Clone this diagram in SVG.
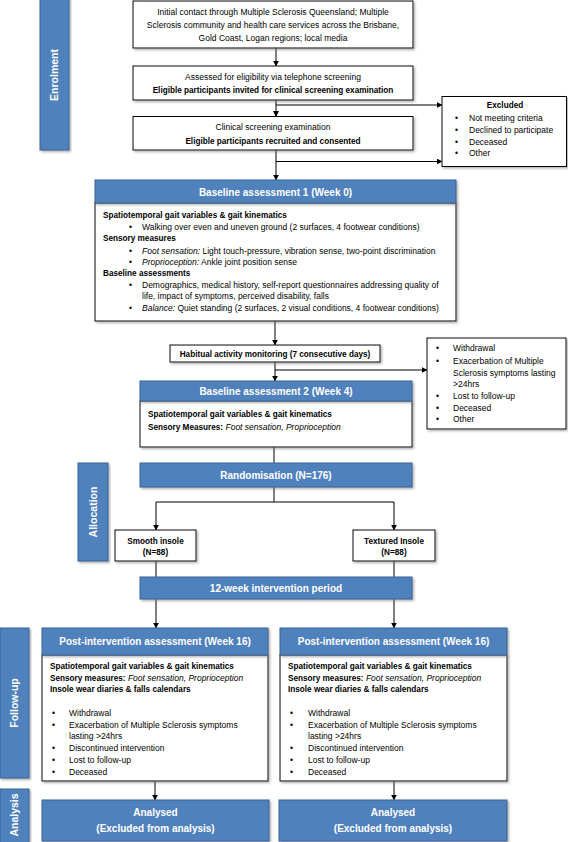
<svg xmlns="http://www.w3.org/2000/svg" width="568" height="842" viewBox="0 0 568 842">
<defs>
<filter id="ds" x="-5%" y="-5%" width="115%" height="130%"><feDropShadow dx="1.5" dy="1.5" stdDeviation="0.8" flood-color="#777" flood-opacity="0.6"/></filter>
<marker id="ah" viewBox="0 0 10 10" refX="9" refY="5" markerWidth="6" markerHeight="6" markerUnits="userSpaceOnUse" orient="auto"><path d="M0,0 L10,5 L0,10 z" fill="#000"/></marker>
</defs>
<style>
text { font-family: "Liberation Sans", Arial, sans-serif; font-size: 8.5px; fill: #000; }
.b { font-weight: bold; font-size: 8.2px; }
.i { font-style: italic; }
.c { text-anchor: middle; }
.h { font-weight: bold; font-size: 10px; fill: #fff; text-anchor: middle; }
.s { font-weight: bold; font-size: 10.5px; fill: #fff; text-anchor: middle; }
.wb { fill: #fff; stroke: #000; stroke-width: 1; filter: url(#ds); }
.bb { fill: #4F81BD; stroke: #3A6595; stroke-width: 1; filter: url(#ds); }
.ln { stroke: #000; stroke-width: 1; fill: none; }
.ar { stroke: #000; stroke-width: 1; fill: none; marker-end: url(#ah); }
</style>
<rect width="568" height="842" fill="#fff"/>

<g id="side-enrolment"><rect class="bb" x="40" y="-2" width="29" height="152"/><text class="s" transform="translate(54.5,75) rotate(-90)" dy="0.35em">Enrolment</text></g>
<g id="side-allocation"><rect class="bb" x="78" y="463" width="30" height="98"/><text class="s" transform="translate(93,512) rotate(-90)" dy="0.35em">Allocation</text></g>
<g id="side-followup"><rect class="bb" x="0" y="628" width="29" height="150"/><text class="s" transform="translate(14.5,703) rotate(-90)" dy="0.35em">Follow-up</text></g>
<g id="side-analysis"><rect class="bb" x="0" y="789" width="29" height="56"/><text class="s" transform="translate(14.5,815) rotate(-90)" dy="0.35em">Analysis</text></g>

<g id="connectors">
<line class="ar" x1="276" y1="48" x2="276" y2="66"/>
<line class="ar" x1="276" y1="100" x2="276" y2="116.5"/>
<line class="ar" x1="276" y1="105" x2="442" y2="105"/>
<line class="ar" x1="276" y1="150" x2="276" y2="180"/>
<line class="ar" x1="276" y1="161.5" x2="442" y2="161.5"/>
<line class="ar" x1="275" y1="321" x2="275" y2="345"/>
<line class="ar" x1="275" y1="362" x2="275" y2="381"/>
<line class="ar" x1="275" y1="370" x2="427" y2="370"/>
<line class="ln" x1="274" y1="447" x2="274" y2="463"/>
<line class="ln" x1="274" y1="487" x2="274" y2="502"/>
<line class="ln" x1="156" y1="502" x2="394" y2="502"/>
<line class="ar" x1="156" y1="502" x2="156" y2="530"/>
<line class="ar" x1="394" y1="502" x2="394" y2="530"/>
<line class="ln" x1="156" y1="561" x2="156" y2="577"/>
<line class="ln" x1="394" y1="561" x2="394" y2="577"/>
<line class="ar" x1="156" y1="599" x2="156" y2="628"/>
<line class="ar" x1="394" y1="599" x2="394" y2="628"/>
<line class="ar" x1="155" y1="781" x2="155" y2="800"/>
<line class="ar" x1="394" y1="781" x2="394" y2="800"/>
</g>

<g id="initial-contact">
<rect class="wb" x="133" y="1" width="280" height="47"/>
<text class="c" x="273" y="15">Initial contact through Multiple Sclerosis Queensland; Multiple</text>
<text class="c" x="273" y="28">Sclerosis community and health care services across the Brisbane,</text>
<text class="c" x="273" y="41">Gold Coast, Logan regions; local media</text>
</g>

<g id="telephone-screening">
<rect class="wb" x="133" y="66" width="280" height="34"/>
<text class="c" x="273" y="80">Assessed for eligibility via telephone screening</text>
<text class="c b" x="273" y="93">Eligible participants invited for clinical screening examination</text>
</g>

<g id="clinical-screening">
<rect class="wb" x="133" y="116.5" width="280" height="33.5"/>
<text class="c" x="273" y="130">Clinical screening examination</text>
<text class="c b" x="273" y="144">Eligible participants recruited and consented</text>
</g>

<g id="excluded-1">
<rect class="wb" x="442" y="96.5" width="124.5" height="70"/>
<text class="c b" x="505" y="108">Excluded</text>
<text x="455" y="121">•</text><text x="469" y="121">Not meeting criteria</text>
<text x="455" y="133">•</text><text x="469" y="133">Declined to participate</text>
<text x="455" y="144.7">•</text><text x="469" y="144.7">Deceased</text>
<text x="455" y="156.3">•</text><text x="469" y="156.3">Other</text>
</g>

<g id="baseline-1">
<rect class="wb" x="95" y="203" width="361" height="118"/>
<rect class="bb" x="95" y="180" width="361" height="23"/>
<text class="h" x="275.5" y="195.5">Baseline assessment 1 (Week 0)</text>
<text class="b" x="103" y="218">Spatiotemporal gait variables &amp; gait kinematics</text>
<text x="129" y="230.3">•</text><text x="142" y="230.3">Walking over even and uneven ground (2 surfaces, 4 footwear conditions)</text>
<text class="b" x="103" y="241.3">Sensory measures</text>
<text x="129" y="253.7">•</text><text x="142" y="253.7"><tspan class="i">Foot sensation:</tspan> Light touch-pressure, vibration sense, two-point discrimination</text>
<text x="129" y="264.7">•</text><text x="142" y="264.7"><tspan class="i">Proprioception:</tspan> Ankle joint position sense</text>
<text class="b" x="103" y="276.3">Baseline assessments</text>
<text x="129" y="288">•</text><text x="142" y="288">Demographics, medical history, self-report questionnaires addressing quality of</text>
<text x="142" y="299">life, impact of symptoms, perceived disability, falls</text>
<text x="129" y="311.3">•</text><text x="142" y="311.3"><tspan class="i">Balance:</tspan> Quiet standing (2 surfaces, 2 visual conditions, 4 footwear conditions)</text>
</g>

<g id="habitual-activity">
<rect class="wb" x="170" y="345" width="210" height="17"/>
<text class="c b" x="275" y="356.5">Habitual activity monitoring (7 consecutive days)</text>
</g>

<g id="excluded-2">
<rect class="wb" x="427" y="338" width="139" height="91"/>
<text x="436" y="351.3">•</text><text x="453" y="351.3">Withdrawal</text>
<text x="436" y="363.7">•</text><text x="453" y="363.7">Exacerbation of Multiple</text>
<text x="453" y="375.7">Sclerosis symptoms lasting</text>
<text x="453" y="387">&gt;24hrs</text>
<text x="436" y="399">•</text><text x="453" y="399">Lost to follow-up</text>
<text x="436" y="410.7">•</text><text x="453" y="410.7">Deceased</text>
<text x="436" y="422.3">•</text><text x="453" y="422.3">Other</text>
</g>

<g id="baseline-2">
<rect class="wb" x="140" y="401" width="272" height="46"/>
<rect class="bb" x="140" y="381" width="272" height="20"/>
<text class="h" x="276" y="394.5">Baseline assessment 2 (Week 4)</text>
<text class="b" x="148" y="417">Spatiotemporal gait variables &amp; gait kinematics</text>
<text x="148" y="430"><tspan class="b">Sensory Measures:</tspan> <tspan class="i">Foot sensation, Proprioception</tspan></text>
</g>

<g id="randomisation">
<rect class="bb" x="140" y="463" width="272" height="24"/>
<text class="h" x="276" y="478.5">Randomisation (N=176)</text>
</g>

<g id="smooth-insole">
<rect class="wb" x="115" y="530" width="81" height="31"/>
<text class="c b" x="155.5" y="544">Smooth insole</text>
<text class="c b" x="155.5" y="555">(N=88)</text>
</g>

<g id="textured-insole">
<rect class="wb" x="353" y="530" width="82" height="31"/>
<text class="c b" x="394" y="544">Textured Insole</text>
<text class="c b" x="394" y="555">(N=88)</text>
</g>

<g id="intervention-period">
<rect class="bb" x="140" y="577" width="272" height="22"/>
<text class="h" x="276" y="591.5">12-week intervention period</text>
</g>

<g id="post-left">
<rect class="wb" x="42" y="655" width="226" height="126"/>
<rect class="bb" x="42" y="628" width="226" height="27"/>
<text class="h" x="155" y="645">Post-intervention assessment (Week 16)</text>
<text class="b" x="50" y="669">Spatiotemporal gait variables &amp; gait kinematics</text>
<text x="50" y="680.5"><tspan class="b">Sensory measures:</tspan> <tspan class="i">Foot sensation, Proprioception</tspan></text>
<text class="b" x="50" y="692">Insole wear diaries &amp; falls calendars</text>
<text x="52" y="716">•</text><text x="69" y="716">Withdrawal</text>
<text x="52" y="727.5">•</text><text x="69" y="727.5">Exacerbation of Multiple Sclerosis symptoms</text>
<text x="69" y="739">lasting &gt;24hrs</text>
<text x="52" y="751">•</text><text x="69" y="751">Discontinued intervention</text>
<text x="52" y="763">•</text><text x="69" y="763">Lost to follow-up</text>
<text x="52" y="775">•</text><text x="69" y="775">Deceased</text>
</g>

<g id="post-right">
<rect class="wb" x="280" y="655" width="227" height="126"/>
<rect class="bb" x="280" y="628" width="227" height="27"/>
<text class="h" x="393.5" y="645">Post-intervention assessment (Week 16)</text>
<text class="b" x="288" y="669">Spatiotemporal gait variables &amp; gait kinematics</text>
<text x="288" y="680.5"><tspan class="b">Sensory measures:</tspan> <tspan class="i">Foot sensation, Proprioception</tspan></text>
<text class="b" x="288" y="692">Insole wear diaries &amp; falls calendars</text>
<text x="290" y="716">•</text><text x="308" y="716">Withdrawal</text>
<text x="290" y="727.5">•</text><text x="308" y="727.5">Exacerbation of Multiple Sclerosis symptoms</text>
<text x="308" y="739">lasting &gt;24hrs</text>
<text x="290" y="751">•</text><text x="308" y="751">Discontinued intervention</text>
<text x="290" y="763">•</text><text x="308" y="763">Lost to follow-up</text>
<text x="290" y="775">•</text><text x="308" y="775">Deceased</text>
</g>

<g id="analysed-left">
<rect class="bb" x="42" y="800" width="227" height="41"/>
<text class="h" x="155.5" y="815.5">Analysed</text>
<text class="h" x="155.5" y="831.5">(Excluded from analysis)</text>
</g>

<g id="analysed-right">
<rect class="bb" x="279" y="800" width="228" height="41"/>
<text class="h" x="393" y="815.5">Analysed</text>
<text class="h" x="393" y="831.5">(Excluded from analysis)</text>
</g>
</svg>
